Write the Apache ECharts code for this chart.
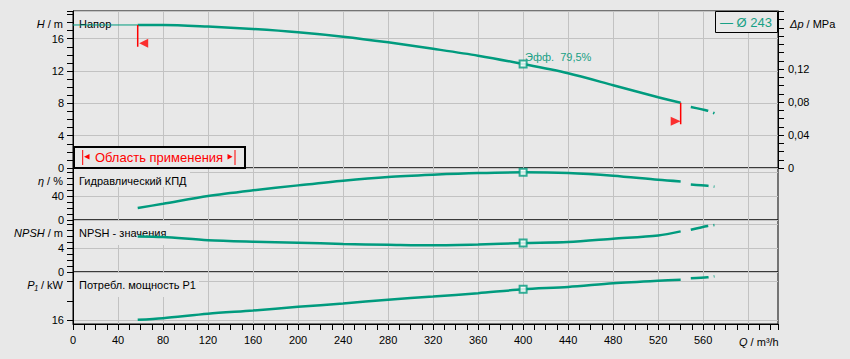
<!DOCTYPE html>
<html><head><meta charset="utf-8">
<script src="https://cdn.jsdelivr.net/npm/echarts@6/dist/echarts.min.js"></script>
<style>html,body{margin:0;padding:0;background:#e8e8e8;}#c{width:850px;height:359px;}</style>
</head><body><div id="c"></div>
<script>
// ---- data ----
const flowQ   = [57.5, 80, 120, 160, 200, 240, 280, 320, 360, 400, 440, 480, 520, 540];
const headH   = [17.7, 17.7, 17.5, 17.2, 16.8, 16.25, 15.55, 14.75, 13.9, 12.87, 11.72, 10.25, 8.75, 8.08];
const effEta  = [20, 27, 40, 49.5, 57.7, 65.5, 71.7, 75.5, 78.3, 79.5, 78.3, 73.8, 67, 64.3];
const npshM   = [5.93, 5.83, 5.3, 5.05, 4.88, 4.67, 4.55, 4.45, 4.58, 4.83, 5.0, 5.55, 6.1, 6.77];
const powerP1 = [16.03, 16.2, 16.67, 17.0, 17.38, 17.72, 18.13, 18.45, 18.8, 19.2, 19.45, 19.83, 20.1, 20.2];
const extQ    = [549, 564, 570];
const extH    = [7.55, 7.09, 6.77];
const extEta  = [59.3, 57, 55.5];
const extNPSH = [7.05, 7.67, 7.83];
const extP1   = [20.35, 20.45, 20.55];
const shutoffQ = [0, 57.5];
const shutoffH = [17.7, 17.7];
const opQ = 400, opH = 12.87, opEta = 79.5, opNPSH = 4.83, opP1 = 19.2;
const rangeQ = [57.5, 540];
const rangeTopH = [17.7, 8.08];
const rangeBottomH = [15.0, 5.4];
const rangeArrowH = [15.45, 5.8];
const xLabels = [0, 40, 80, 120, 160, 200, 240, 280, 320, 360, 400, 440, 480, 520, 560];
const hLabels = [0, 4, 8, 12, 16];
const dpLabels = [0, 0.04, 0.08, 0.12];
const etaLabels = [0, 40];
const npshLabels = [0, 4];
const p1Ticks = [16, 18, 20];
const p1Labels = [16];
const legendName = 'Ø 243';
const effText = 'Эфф.  79,5%';

// ---- styling ----
const TEAL = '#009b7e';
const GRID = '#c2c2c2';
const NONE = 'rgba(0,0,0,0)';
const BG = '#e8e8e8';
const FONT = '"Liberation Sans", Arial, sans-serif';
const has = (arr, v) => arr.some(a => Math.abs(a - v) < 1e-6);
const zip = (a, b) => a.map((v, i) => [v, b[i]]);
const xMax = 626.5;

const chart = echarts.init(document.getElementById('c'), null, {renderer: 'svg', width: 850, height: 359});

const grids = [
  {top: 11, height: 157}, {top: 168, height: 52}, {top: 220, height: 52}, {top: 272, height: 52}
].map(g => Object.assign({left: 73, right: 72, show: true, borderColor: '#000', borderWidth: 1,
  backgroundColor: 'transparent', containLabel: false, outerBoundsMode: 'none'}, g));

const xAxes = [0, 1, 2, 3].map(i => ({
  type: 'value', gridIndex: i, min: 0, max: xMax, interval: 10,
  axisLine: {show: i === 3, lineStyle: {color: '#000', width: 1}},
  axisTick: {show: i === 3, length: 6, lineStyle: {color: '#000'}},
  axisLabel: {show: i === 3, margin: 10, color: '#000', fontSize: 11, fontFamily: FONT,
    formatter: v => has(xLabels, v) ? String(v) : ''},
  splitLine: {show: true, lineStyle: {color: [GRID, NONE, NONE, NONE], width: 1}}
}));

function leftAxis(grid, min, max, interval, labels, colors, extra) {
  return Object.assign({
    type: 'value', gridIndex: grid, position: 'left', min: min, max: max, interval: interval,
    axisLine: {show: true, lineStyle: {color: '#000'}},
    axisTick: {show: true, length: 6, lineStyle: {color: '#000'}},
    axisLabel: {margin: 9, color: '#000', fontSize: 11, fontFamily: FONT,
      formatter: v => has(labels, v) ? String(v) : ''},
    splitLine: {show: true, lineStyle: {color: colors, width: 1}}
  }, extra || {});
}

const yAxes = [
  leftAxis(0, 0, 19.43, 1, hLabels, [GRID, NONE, NONE, NONE]),
  {
    type: 'value', gridIndex: 0, position: 'right', min: 0, max: 0.19054, interval: 0.01,
    axisLine: {show: true, lineStyle: {color: '#000'}},
    axisTick: {show: true, length: 6, lineStyle: {color: '#000'}},
    axisLabel: {margin: 10, color: '#000', fontSize: 11, fontFamily: FONT,
      formatter: v => has(dpLabels, v) ? (v === 0 ? '0' : v.toFixed(2).replace('.', ',')) : ''},
    splitLine: {show: false}
  },
  leftAxis(1, 0, 86.67, 10, etaLabels, [GRID, NONE, NONE, NONE]),
  leftAxis(2, 0, 8.667, 1, npshLabels, [GRID, NONE, NONE, NONE]),
  {
    type: 'value', gridIndex: 3, position: 'left', min: 15.6, max: 21.0,
    axisLine: {show: true, lineStyle: {color: '#000'}},
    axisTick: {show: true, length: 6, customValues: p1Ticks, lineStyle: {color: '#000'}},
    axisLabel: {margin: 9, color: '#000', fontSize: 11, fontFamily: FONT, customValues: p1Labels,
      formatter: v => String(v)},
    splitLine: {show: true, lineStyle: {color: [GRID, NONE], width: 1}}
  }
];

function curve(xi, yi, q, v, ext, opV) {
  return [
    {type: 'line', xAxisIndex: xi, yAxisIndex: yi, data: zip(q, v), smooth: 0.3, showSymbol: false,
      symbol: 'none', lineStyle: {color: TEAL, width: 2.5}, z: 3},
    {type: 'line', xAxisIndex: xi, yAxisIndex: yi, data: zip(extQ, ext), smooth: 0.3, showSymbol: false,
      symbol: 'none', lineStyle: {color: TEAL, width: 2.5, type: [18, 5]}, z: 3},
    {type: 'scatter', xAxisIndex: xi, yAxisIndex: yi, data: [[opQ, opV]], symbol: 'rect', symbolSize: 7,
      itemStyle: {color: '#fff', borderColor: TEAL, borderWidth: 2}, z: 5}
  ];
}

const series = [].concat(
  [{type: 'line', xAxisIndex: 0, yAxisIndex: 0, data: zip(shutoffQ, shutoffH), symbol: 'none',
    lineStyle: {color: TEAL, width: 1}, z: 3}],
  curve(0, 0, flowQ, headH, extH, opH),
  curve(1, 2, flowQ, effEta, extEta, opEta),
  curve(2, 3, flowQ, npshM, extNPSH, opNPSH),
  curve(3, 4, flowQ, powerP1, extP1, opP1),
  rangeQ.map((q, i) => ({type: 'line', xAxisIndex: 0, yAxisIndex: 0, symbol: 'none',
    data: [[q, rangeTopH[i]], [q, rangeBottomH[i]]], lineStyle: {color: '#ff0000', width: 1.5}, z: 4})),
  [{type: 'scatter', xAxisIndex: 0, yAxisIndex: 0, data: [[rangeQ[0], rangeArrowH[0]]],
     symbol: 'path://M0,5L10,0L10,10Z', symbolSize: [9, 9], symbolOffset: [6, 0],
     itemStyle: {color: '#ff0000'}, z: 4},
   {type: 'scatter', xAxisIndex: 0, yAxisIndex: 0, data: [[rangeQ[1], rangeArrowH[1]]],
     symbol: 'path://M10,5L0,0L0,10Z', symbolSize: [10, 9], symbolOffset: [-5, 0],
     itemStyle: {color: '#ff0000'}, z: 4}]
);

function txt(x, y, text, opt) {
  opt = opt || {};
  return {type: 'text', x: x, y: y, z: 2, style: Object.assign({
    text: text, fontSize: 11, fontFamily: FONT, fill: '#000',
    align: opt.align || 'left', textAlign: opt.align || 'left',
    verticalAlign: 'middle', textVerticalAlign: 'middle'}, opt.style || {})};
}
function rtxt(x, y, text, align) {
  return {type: 'text', x: x, y: y, z: 2, style: {
    text: text, align: align, textAlign: align, verticalAlign: 'middle', textVerticalAlign: 'middle',
    fontSize: 11, fontFamily: FONT, fill: '#000',
    rich: {i: {fontStyle: 'italic', fontSize: 11, fontFamily: FONT, fill: '#000'},
           n: {fontSize: 11, fontFamily: FONT, fill: '#000'}}}};
}
function bg(x, y, w, h) {
  return {type: 'rect', z: 1, shape: {x: x, y: y, width: w, height: h}, style: {fill: BG}};
}

const graphics = [
  bg(74, 169, 116, 18),
  bg(74, 221, 96, 24),
  bg(74, 273, 125, 24),
  txt(79, 24, 'Напор'),
  txt(79, 181, 'Гидравлический КПД'),
  txt(79, 233, 'NPSH - значения'),
  txt(79, 285, 'Потребл. мощность P1'),
  txt(525, 57, effText, {style: {fill: '#17a085'}}),
  rtxt(63, 24, '{i|H}{n| / m}', 'right'),
  rtxt(63, 181, '{i|η}{n| / %}', 'right'),
  rtxt(63, 233, '{i|NPSH}{n| / m}', 'right'),
  rtxt(63, 285, '{i|P₁}{n| / kW}', 'right'),
  rtxt(790, 24, '{i|Δp}{n| / MPa}', 'left'),
  rtxt(739, 342, '{i|Q}{n| / m³/h}', 'left'),
  // application range box
  {type: 'rect', z: 2, shape: {x: 74, y: 147, width: 171, height: 21},
    style: {fill: BG, stroke: '#000', lineWidth: 2}},
  {type: 'line', z: 3, shape: {x1: 82.7, y1: 150, x2: 82.7, y2: 165}, style: {stroke: '#ff0000', lineWidth: 1}},
  {type: 'line', z: 3, shape: {x1: 235, y1: 150, x2: 235, y2: 165}, style: {stroke: '#ff0000', lineWidth: 1}},
  {type: 'polygon', z: 3, shape: {points: [[84, 156.7], [89.5, 154], [89.5, 159.5]]}, style: {fill: '#ff0000'}},
  {type: 'polygon', z: 3, shape: {points: [[232.5, 156.7], [227.5, 154], [227.5, 159.5]]}, style: {fill: '#ff0000'}},
  txt(159, 157, 'Область применения', {align: 'center', style: {fontSize: 13, fill: '#ff0000'}}),
  // legend box
  {type: 'rect', z: 2, shape: {x: 715.5, y: 11.5, width: 62, height: 21},
    style: {fill: BG, stroke: '#000', lineWidth: 1}},
  txt(720, 22, '— ' + legendName, {style: {fontSize: 13, fill: '#17a085'}})
];

chart.setOption({
  animation: false,
  backgroundColor: BG,
  grid: grids,
  xAxis: xAxes,
  yAxis: yAxes,
  series: series,
  graphic: {elements: graphics}
});
</script></body></html>
